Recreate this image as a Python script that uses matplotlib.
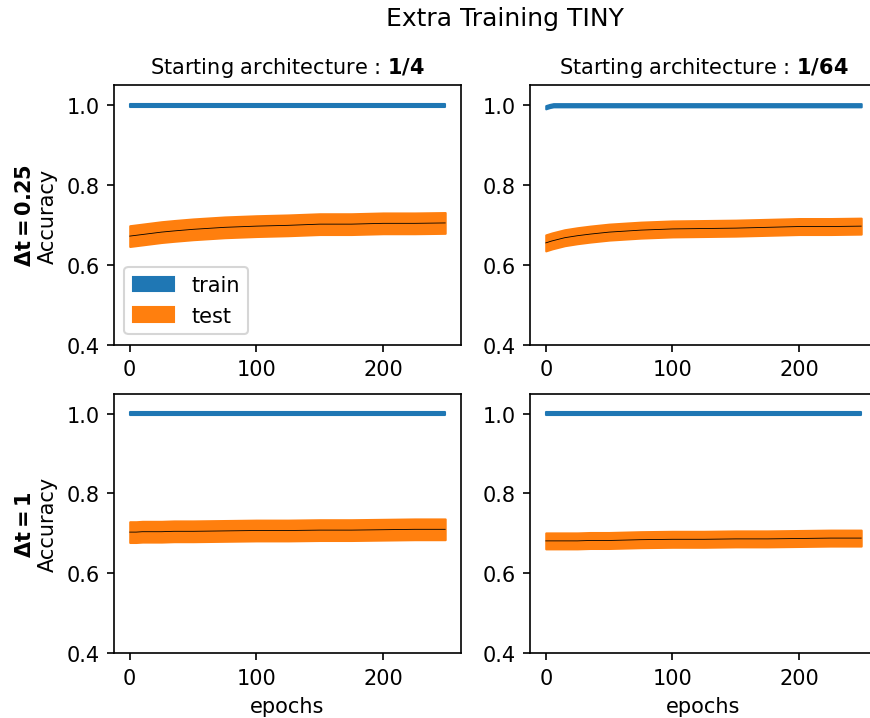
import numpy as np
import matplotlib
matplotlib.use("Agg")
import matplotlib.pyplot as plt

epochs = [0, 5, 10, 15, 25, 35, 50, 75, 100, 125, 150, 175, 200, 225, 249]
train_epochs = [0, 3, 6, 25, 100, 175, 249]

# rows: dt = 0.25, dt = 1 ; cols: start 1/4, start 1/64
row_labels = ["0.25", "1"]
col_labels = ["1/4", "1/64"]

train_mean = {
    (0, 0): [1.0, 1.0, 1.0, 1.0, 1.0, 1.0, 1.0],
    (0, 1): [0.995, 0.998, 1.0, 1.0, 1.0, 1.0, 1.0],
    (1, 0): [1.0, 1.0, 1.0, 1.0, 1.0, 1.0, 1.0],
    (1, 1): [1.0, 1.0, 1.0, 1.0, 1.0, 1.0, 1.0],
}
train_std = [0.004, 0.004, 0.004, 0.004]

test_mean = {
    (0, 0): [0.672, 0.674, 0.676, 0.678, 0.682, 0.685, 0.689, 0.694, 0.697, 0.699, 0.702, 0.702, 0.704, 0.704, 0.705],
    (0, 1): [0.655, 0.660, 0.664, 0.668, 0.673, 0.677, 0.682, 0.687, 0.690, 0.691, 0.692, 0.694, 0.696, 0.696, 0.697],
    (1, 0): [0.703, 0.703, 0.704, 0.704, 0.704, 0.705, 0.705, 0.706, 0.707, 0.707, 0.708, 0.708, 0.709, 0.710, 0.710],
    (1, 1): [0.681, 0.681, 0.681, 0.681, 0.681, 0.682, 0.682, 0.684, 0.685, 0.685, 0.686, 0.686, 0.687, 0.688, 0.688],
}
test_std = {(0, 0): 0.026, (0, 1): 0.020, (1, 0): 0.026, (1, 1): 0.020}

fig, axes = plt.subplots(2, 2, figsize=(5.8, 4.7933), dpi=150)
fig.subplots_adjust(left=0.131, right=1.008, bottom=0.0904, top=0.880,
                    wspace=0.199, hspace=0.189)

for i in range(2):
    for j in range(2):
        ax = axes[i, j]
        tr = np.array(train_mean[(i, j)])
        te = np.array(test_mean[(i, j)])
        s = test_std[(i, j)]
        ax.fill_between(train_epochs, tr - train_std[i * 2 + j], tr + train_std[i * 2 + j],
                        color="C0", label="train")
        ax.fill_between(epochs, te - s, te + s, color="C1", label="test")
        ax.plot(epochs, te, color="black", lw=0.4)
        ax.set_ylim(0.4, 1.05)
        ax.set_yticks([0.4, 0.6, 0.8, 1.0])
        ax.set_xticks([0, 100, 200])
        if i == 0:
            ax.set_title("Starting architecture : $\\bf{" + col_labels[j] + "}$", fontsize=10)
        if i == 1:
            ax.set_xlabel("epochs")
        if j == 0:
            ax.set_ylabel("$\\bf{\\Delta t = " + row_labels[i] + "}$\nAccuracy")

axes[0, 0].legend(loc="lower left")
fig.suptitle("Extra Training TINY", x=0.58, y=0.99)

plt.savefig("out.png", dpi=150)
